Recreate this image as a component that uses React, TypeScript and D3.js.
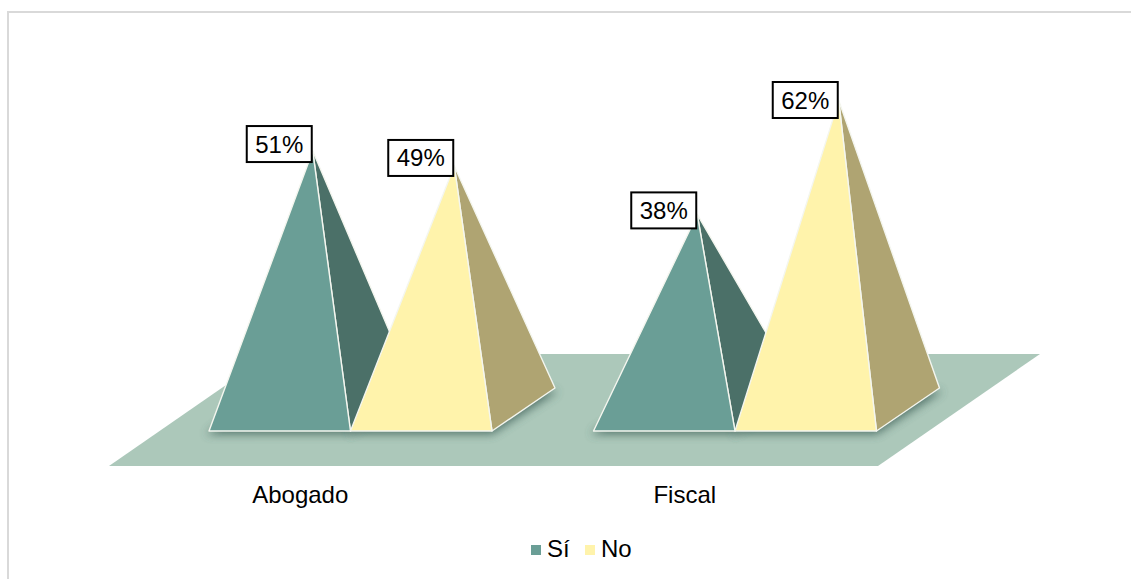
import React from "react";
import * as d3 from "d3";

// Data
const categories = ["Abogado", "Fiscal"];
const seriesNames = ["Sí", "No"];
const siValues = [51, 38];
const noValues = [49, 62];

// Colours
const frontColors = ["#6A9E96", "#FFF3AB"];
const sideColors = ["#4B7068", "#AFA472"];
const floorColor = "#ACC8BA";

// Layout
const W = 1131;
const H = 579;
const floorLeft = 109;
const floorRight = 878;
const floorFrontY = 466;
const floorDepth = { dx: 162, dy: -112 };
const baseFrontY = 431;
const baseDepth = { dx: 63, dy: -43 };
const apexShift = 1.5;
const labelW = 65;
const labelH = 36;
// the source's 3D projection moves each apex slightly off a linear scale (series, category)
const apexDy = [
  [-6, -7],
  [-1, -2],
];
// vertical offset of each label box from its apex (series, category)
const labelDy = [
  [-7, -4],
  [-8, -0.6],
];
const FONT = "'Liberation Sans', Arial, sans-serif";

const xCat = d3.scaleBand<string>().domain(categories).range([floorLeft, floorRight]);
const xSeries = d3.scaleBand<string>().domain(seriesNames).range([100, 383]);
const baseMidY = baseFrontY + baseDepth.dy / 2;
const y = d3.scaleLinear().domain([0, 100]).range([baseMidY, baseMidY - 495]);
const poly = d3.line<[number, number]>().curve(d3.curveLinearClosed);
const pct = (v: number) => `${d3.format(".0f")(v)}%`;

const valuesBySeries = [siValues, noValues];

type Pyr = {
  key: string;
  s: number;
  c: number;
  value: number;
  x0: number;
  x1: number;
  apex: [number, number];
};

const pyramids: Pyr[] = seriesNames.flatMap((name, s) =>
  categories.map((cat, c) => {
    const x0 = (xCat(cat) as number) + (xSeries(name) as number);
    const x1 = x0 + xSeries.bandwidth();
    const value = valuesBySeries[s][c];
    const apex: [number, number] = [
      (x0 + x1) / 2 + baseDepth.dx / 2 + apexShift,
      y(value) + apexDy[s][c],
    ];
    return { key: `${cat}-${name}`, s, c, value, x0, x1, apex };
  })
);

// Painted left to right so each pyramid overlaps the previous one
const drawOrder = [...pyramids].sort((a, b) => a.x0 - b.x0);

const floorPts: [number, number][] = [
  [floorLeft, floorFrontY],
  [floorRight, floorFrontY],
  [floorRight + floorDepth.dx, floorFrontY + floorDepth.dy],
  [floorLeft + floorDepth.dx, floorFrontY + floorDepth.dy],
];

const legendItems = [
  { x: 531, textX: 547 },
  { x: 585, textX: 601 },
];

export default function App() {
  return (
    <svg
      width={W}
      height={H}
      viewBox={`0 0 ${W} ${H}`}
      style={{ position: "absolute", left: 0, top: 0, display: "block" }}
      fontFamily={FONT}
    >
      <defs>
        <filter id="shadow" x="-30%" y="-50%" width="160%" height="200%">
          <feGaussianBlur stdDeviation="5" />
        </filter>
        <clipPath id="floorClip">
          <path d={poly(floorPts) as string} />
        </clipPath>
      </defs>

      <rect x={0} y={0} width={W} height={H} fill="#FFFFFF" />
      <path d={`M8,${H} V12 H${W}`} fill="none" stroke="#D9D9D9" strokeWidth={2} />

      <path d={poly(floorPts) as string} fill={floorColor} />

      <g clipPath="url(#floorClip)">
        {drawOrder.map((p) => (
          <path
            key={`sh-${p.key}`}
            d={
              poly([
                [p.x0 - 3, baseFrontY + 3],
                [p.x1, baseFrontY + 3],
                [p.x1 + baseDepth.dx + 3, baseFrontY + baseDepth.dy + 3],
                [p.x0 + baseDepth.dx, baseFrontY + baseDepth.dy],
              ]) as string
            }
            fill="#3E5F57"
            opacity={0.8}
            filter="url(#shadow)"
          />
        ))}
      </g>

      {drawOrder.map((p) => (
        <g key={p.key} stroke="#F4F6EF" strokeWidth={1.4} strokeLinejoin="round">
          <path
            d={
              poly([
                [p.x1, baseFrontY],
                [p.x1 + baseDepth.dx, baseFrontY + baseDepth.dy],
                p.apex,
              ]) as string
            }
            fill={sideColors[p.s]}
          />
          <path
            d={
              poly([
                [p.x0, baseFrontY],
                [p.x1, baseFrontY],
                p.apex,
              ]) as string
            }
            fill={frontColors[p.s]}
          />
        </g>
      ))}

      {pyramids.map((p) => {
        const cy = p.apex[1] + labelDy[p.s][p.c];
        const bx = p.apex[0] - 1 - labelW;
        return (
          <g key={`l-${p.key}`}>
            <rect
              x={bx}
              y={cy - labelH / 2}
              width={labelW}
              height={labelH}
              fill="#FFFFFF"
              stroke="#000000"
              strokeWidth={2}
            />
            <text
              x={bx + labelW / 2}
              y={cy + 8.5}
              textAnchor="middle"
              fontSize={24}
              fill="#000000"
            >
              {pct(p.value)}
            </text>
          </g>
        );
      })}

      {categories.map((cat) => (
        <text
          key={cat}
          x={(xCat(cat) as number) + xCat.bandwidth() / 2 - 1}
          y={503}
          textAnchor="middle"
          fontSize={24}
          fill="#000000"
        >
          {cat}
        </text>
      ))}

      {seriesNames.map((name, i) => (
        <g key={name}>
          <rect x={legendItems[i].x} y={545} width={10} height={10} fill={frontColors[i]} />
          <text x={legendItems[i].textX} y={557} fontSize={24} fill="#000000">
            {name}
          </text>
        </g>
      ))}
    </svg>
  );
}
